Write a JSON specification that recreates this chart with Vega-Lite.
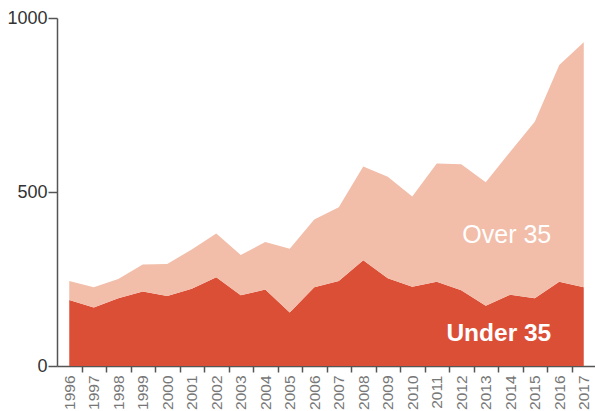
{
  "$schema": "https://vega.github.io/schema/vega-lite/v6.json",
  "width": 539,
  "height": 348,
  "autosize": {"type": "none"},
  "padding": {"left": 57, "top": 18, "right": 0, "bottom": 45},
  "background": "white",
  "config": {"view": {"stroke": null}, "font": "Liberation Sans"},
  "datasets": {
    "series": [
      {"year": "1996", "group": "Under 35", "value": 190}, {"year": "1996", "group": "Over 35", "value": 54},
      {"year": "1997", "group": "Under 35", "value": 168}, {"year": "1997", "group": "Over 35", "value": 58},
      {"year": "1998", "group": "Under 35", "value": 195}, {"year": "1998", "group": "Over 35", "value": 55},
      {"year": "1999", "group": "Under 35", "value": 214}, {"year": "1999", "group": "Over 35", "value": 78},
      {"year": "2000", "group": "Under 35", "value": 201}, {"year": "2000", "group": "Over 35", "value": 92},
      {"year": "2001", "group": "Under 35", "value": 222}, {"year": "2001", "group": "Over 35", "value": 113},
      {"year": "2002", "group": "Under 35", "value": 255}, {"year": "2002", "group": "Over 35", "value": 126},
      {"year": "2003", "group": "Under 35", "value": 203}, {"year": "2003", "group": "Over 35", "value": 116},
      {"year": "2004", "group": "Under 35", "value": 220}, {"year": "2004", "group": "Over 35", "value": 136},
      {"year": "2005", "group": "Under 35", "value": 154}, {"year": "2005", "group": "Over 35", "value": 183},
      {"year": "2006", "group": "Under 35", "value": 226}, {"year": "2006", "group": "Over 35", "value": 195},
      {"year": "2007", "group": "Under 35", "value": 244}, {"year": "2007", "group": "Over 35", "value": 212},
      {"year": "2008", "group": "Under 35", "value": 304}, {"year": "2008", "group": "Over 35", "value": 269},
      {"year": "2009", "group": "Under 35", "value": 252}, {"year": "2009", "group": "Over 35", "value": 292},
      {"year": "2010", "group": "Under 35", "value": 228}, {"year": "2010", "group": "Over 35", "value": 259},
      {"year": "2011", "group": "Under 35", "value": 242}, {"year": "2011", "group": "Over 35", "value": 340},
      {"year": "2012", "group": "Under 35", "value": 218}, {"year": "2012", "group": "Over 35", "value": 362},
      {"year": "2013", "group": "Under 35", "value": 173}, {"year": "2013", "group": "Over 35", "value": 355},
      {"year": "2014", "group": "Under 35", "value": 205}, {"year": "2014", "group": "Over 35", "value": 411},
      {"year": "2015", "group": "Under 35", "value": 195}, {"year": "2015", "group": "Over 35", "value": 507},
      {"year": "2016", "group": "Under 35", "value": 242}, {"year": "2016", "group": "Over 35", "value": 623},
      {"year": "2017", "group": "Under 35", "value": 226}, {"year": "2017", "group": "Over 35", "value": 704}
    ]
  },
  "layer": [
    {
      "data": {"name": "series"},
      "mark": {"type": "area", "interpolate": "linear"},
      "encoding": {
        "x": {
          "field": "year", "type": "ordinal",
          "scale": {"type": "point", "padding": 0.5},
          "axis": {
            "title": null, "labelAngle": -90, "labelAlign": "right", "labelBaseline": "middle",
            "labelFontSize": 15.5, "labelColor": "#777", "labelPadding": 3,
            "tickOffset": 12.25, "labelOffset": -12.25, "tickSize": 6, "tickColor": "#555", "tickWidth": 1.5,
            "domainColor": "#555", "domainWidth": 1.5, "grid": false
          }
        },
        "y": {
          "field": "value", "type": "quantitative", "aggregate": "sum", "stack": "zero",
          "scale": {"domain": [0, 1000], "nice": false},
          "axis": {
            "title": null, "values": [0, 500, 1000], "format": "d", "labelFontSize": 18, "labelColor": "#333",
            "tickSize": 9, "tickColor": "#555", "tickWidth": 1.5, "labelPadding": 1,
            "domainColor": "#555", "domainWidth": 1.5, "grid": false
          }
        },
        "color": {
          "field": "group", "type": "nominal",
          "scale": {"domain": ["Under 35", "Over 35"], "range": ["#dc4f37", "#f2bda9"]},
          "legend": null
        },
        "order": {"field": "group", "sort": "descending"}
      }
    },
    {
      "data": {"values": [{"year": "2016", "label": "Over 35", "value": 376}]},
      "mark": {"type": "text", "align": "right", "baseline": "middle", "dx": -8, "fontSize": 25, "color": "white"},
      "encoding": {
        "x": {"field": "year", "type": "ordinal"},
        "y": {"field": "value", "type": "quantitative"},
        "text": {"field": "label"}
      }
    },
    {
      "data": {"values": [{"year": "2016", "label": "Under 35", "value": 92}]},
      "mark": {"type": "text", "align": "right", "baseline": "middle", "dx": -8, "fontSize": 24.5, "fontWeight": "bold", "color": "white"},
      "encoding": {
        "x": {"field": "year", "type": "ordinal"},
        "y": {"field": "value", "type": "quantitative"},
        "text": {"field": "label"}
      }
    }
  ]
}
